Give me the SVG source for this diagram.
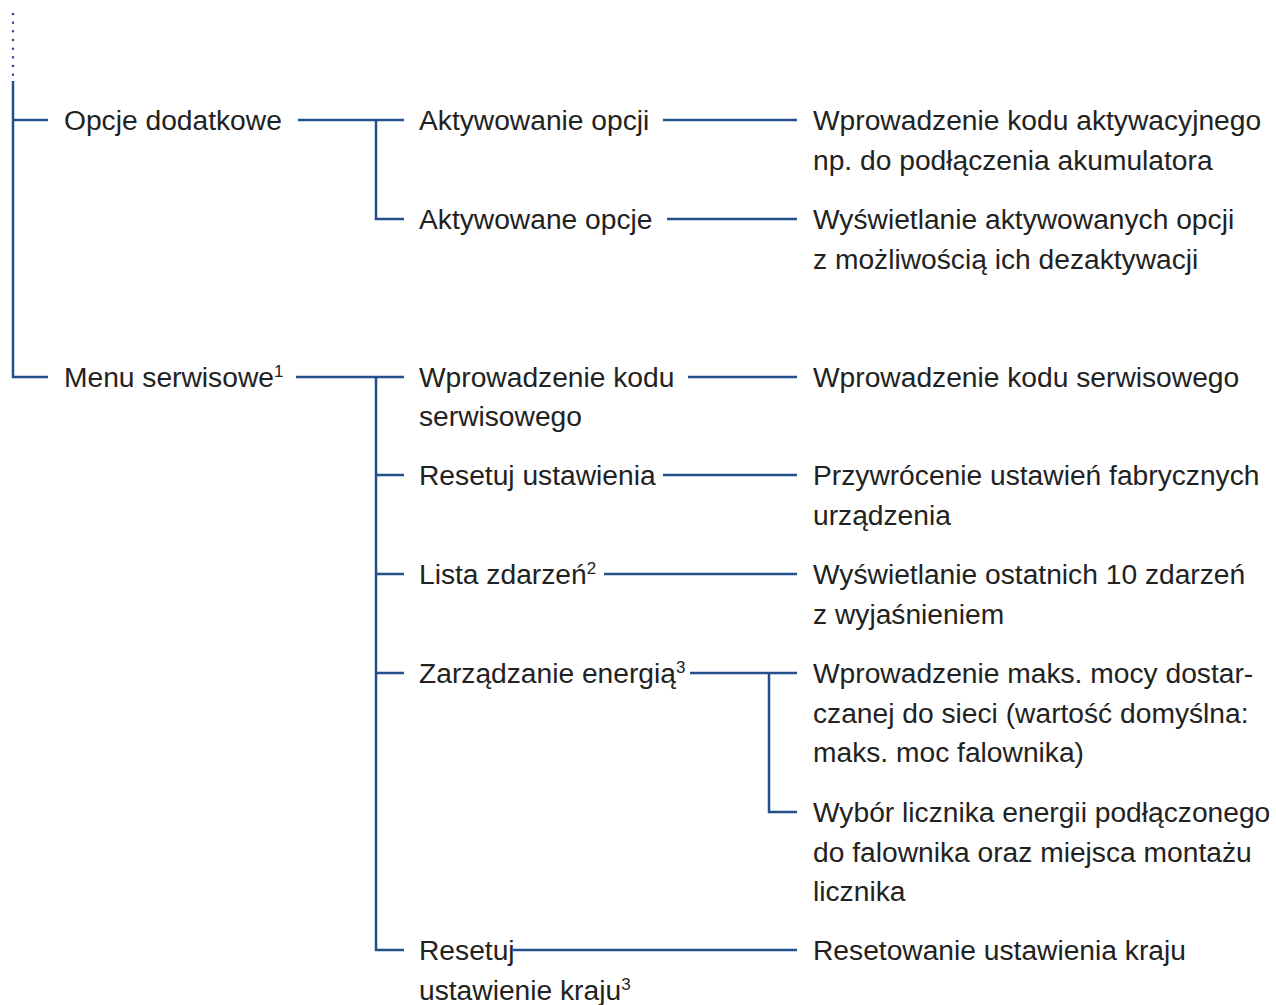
<svg xmlns="http://www.w3.org/2000/svg" width="1276" height="1005" viewBox="0 0 1276 1005">
<style>
text{font-family:"Liberation Sans",Arial,sans-serif;font-size:28.2px;fill:#222}
.sup{font-size:17px}
.ln{stroke:#234f8a;stroke-width:2.5;fill:none}
.dot{stroke:#234f8a;stroke-width:2.5;stroke-linecap:round;stroke-dasharray:0 8.67;fill:none}
</style>
<rect width="1276" height="1005" fill="#fff"/>
<g id="connectors">
<path class="dot" d="M13,14 V80"/>
<path class="ln" d="M13,81 V377 H48 M13,120 H48"/>
<path class="ln" d="M298,120 H404 M376,120 V219 H404"/>
<path class="ln" d="M663,120 H797 M667,219 H797"/>
<path class="ln" d="M296,377 H404 M376,377 V950 H404 M376,475 H404 M376,574 H404 M376,673 H404"/>
<path class="ln" d="M688,377 H797 M663,475 H797 M604,574 H797 M690,673 H797 M769,673 V812 H797 M513,950 H797"/>
</g>
<g id="opcje-dodatkowe"><text x="64" y="130">Opcje dodatkowe</text></g>
<g id="aktywowanie-opcji"><text x="419" y="130">Aktywowanie opcji</text></g>
<g id="aktywowane-opcje"><text x="419" y="229">Aktywowane opcje</text></g>
<g id="desc-aktywacja"><text x="813" y="130">Wprowadzenie kodu aktywacyjnego</text><text x="813" y="170">np. do podłączenia akumulatora</text></g>
<g id="desc-aktywowane"><text x="813" y="229">Wyświetlanie aktywowanych opcji</text><text x="813" y="269">z możliwością ich dezaktywacji</text></g>
<g id="menu-serwisowe"><text x="64" y="387">Menu serwisowe<tspan class="sup" dy="-10">1</tspan></text></g>
<g id="kod-serwisowy"><text x="419" y="387">Wprowadzenie kodu</text><text x="419" y="426">serwisowego</text></g>
<g id="desc-kod-serwisowy"><text x="813" y="387">Wprowadzenie kodu serwisowego</text></g>
<g id="resetuj-ustawienia"><text x="419" y="485">Resetuj ustawienia</text></g>
<g id="desc-reset"><text x="813" y="485">Przywrócenie ustawień fabrycznych</text><text x="813" y="525">urządzenia</text></g>
<g id="lista-zdarzen"><text x="419" y="584">Lista zdarzeń<tspan class="sup" dy="-10">2</tspan></text></g>
<g id="desc-lista"><text x="813" y="584">Wyświetlanie ostatnich 10 zdarzeń</text><text x="813" y="624">z wyjaśnieniem</text></g>
<g id="zarzadzanie-energia"><text x="419" y="683">Zarządzanie energią<tspan class="sup" dy="-10">3</tspan></text></g>
<g id="desc-moc"><text x="813" y="683">Wprowadzenie maks. mocy dostar-</text><text x="813" y="723">czanej do sieci (wartość domyślna:</text><text x="813" y="762">maks. moc falownika)</text></g>
<g id="desc-licznik"><text x="813" y="822">Wybór licznika energii podłączonego</text><text x="813" y="862">do falownika oraz miejsca montażu</text><text x="813" y="901">licznika</text></g>
<g id="resetuj-kraj"><text x="419" y="960">Resetuj</text><text x="419" y="1000">ustawienie kraju<tspan class="sup" dy="-10">3</tspan></text></g>
<g id="desc-kraj"><text x="813" y="960">Resetowanie ustawienia kraju</text></g>
</svg>
